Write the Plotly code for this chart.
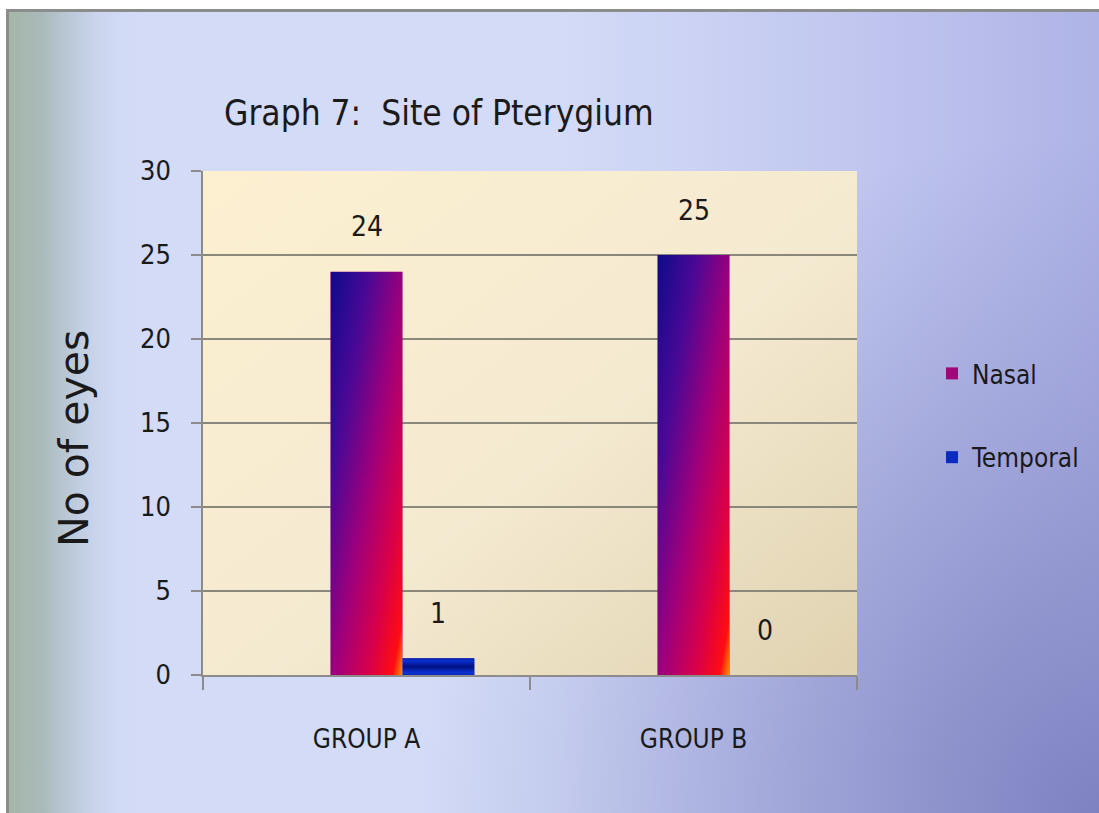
import base64
import plotly.graph_objects as go

# ---- data ----
categories = ["GROUP A", "GROUP B"]
nasal = [24, 25]
temporal = [1, 0]
series_names = ["Nasal", "Temporal"]
y_ticks = [0, 5, 10, 15, 20, 25, 30]
title_text = "Graph 7:\u00a0 Site of Pterygium"
y_title = "No of eyes"

W, H = 1099, 813
L, R, T, B = 203, 242, 171, 138
PW, PH = W - L - R, H - T - B

NARROW = "Liberation Sans Narrow, Arial Narrow, DejaVu Sans Condensed, sans-serif"
BAR_W = 0.22


def svg_uri(svg):
    return "data:image/svg+xml;base64," + base64.b64encode(svg.encode()).decode()


slide_svg = f"""<svg xmlns='http://www.w3.org/2000/svg' width='{W}' height='{H}' viewBox='0 0 {W} {H}'>
<defs>
<linearGradient id='rg' x1='0' y1='0' x2='1' y2='0'>
<stop offset='0.5' stop-color='#b4b8ea' stop-opacity='0'/>
<stop offset='1' stop-color='#aeb2e6' stop-opacity='1'/>
</linearGradient>
<radialGradient id='br' gradientUnits='userSpaceOnUse' cx='{W}' cy='{H}' r='680'>
<stop offset='0' stop-color='#7e82c1' stop-opacity='1'/>
<stop offset='1' stop-color='#8a8ec8' stop-opacity='0'/>
</radialGradient>
<linearGradient id='lg' x1='0' y1='0' x2='1' y2='0'>
<stop offset='0' stop-color='#a4b7a8' stop-opacity='1'/>
<stop offset='0.03' stop-color='#a9baba' stop-opacity='1'/>
<stop offset='0.06' stop-color='#b9c7d6' stop-opacity='0.8'/>
<stop offset='0.1' stop-color='#cdd6f0' stop-opacity='0.3'/>
<stop offset='0.13' stop-color='#d3dbf7' stop-opacity='0'/>
</linearGradient>
</defs>
<rect x='0' y='0' width='{W}' height='{H}' fill='#ffffff'/>
<rect x='6' y='9' width='{W}' height='{H}' fill='#8c8c8c'/>
<rect x='9' y='12' width='{W}' height='{H}' fill='#d3dbf7'/>
<rect x='9' y='12' width='{W}' height='{H}' fill='url(#rg)'/>
<rect x='9' y='12' width='{W}' height='{H}' fill='url(#br)'/>
<rect x='9' y='12' width='{W}' height='{H}' fill='url(#lg)'/>
</svg>"""

plot_svg = """<svg xmlns='http://www.w3.org/2000/svg' width='100' height='100' viewBox='0 0 100 100' preserveAspectRatio='none'>
<defs><linearGradient id='pg' x1='0' y1='0' x2='1' y2='1'>
<stop offset='0' stop-color='#fdf0d1'/>
<stop offset='0.55' stop-color='#f4ead1'/>
<stop offset='1' stop-color='#e0d2b0'/>
</linearGradient></defs>
<rect x='0' y='0' width='100' height='100' fill='url(#pg)'/>
</svg>"""

nasal_svg = """<svg xmlns='http://www.w3.org/2000/svg' width='100' height='100' viewBox='0 0 100 100' preserveAspectRatio='none'>
<defs><linearGradient id='ng' x1='0' y1='0' x2='1' y2='1'>
<stop offset='0' stop-color='#0c0c88'/>
<stop offset='0.27' stop-color='#4a0896'/>
<stop offset='0.52' stop-color='#9c007c'/>
<stop offset='0.76' stop-color='#d8004a'/>
<stop offset='0.93' stop-color='#ff0c12'/>
<stop offset='1' stop-color='#ff9a00'/>
</linearGradient></defs>
<rect x='0' y='0' width='100' height='100' fill='url(#ng)'/>
</svg>"""

temporal_svg = """<svg xmlns='http://www.w3.org/2000/svg' width='100' height='100' viewBox='0 0 100 100' preserveAspectRatio='none'>
<defs><linearGradient id='tg' x1='0' y1='0' x2='0' y2='1'>
<stop offset='0' stop-color='#0a1c9a'/>
<stop offset='0.15' stop-color='#0a30d0'/>
<stop offset='0.5' stop-color='#001080'/>
<stop offset='0.85' stop-color='#0a30d0'/>
<stop offset='1' stop-color='#0a2ac0'/>
</linearGradient></defs>
<rect x='0' y='0' width='100' height='100' fill='url(#tg)'/>
</svg>"""

fig = go.Figure()
offsets = [-BAR_W / 2, BAR_W / 2]
colors = ["#a0087a", "#0a2ac0"]
svgs = [nasal_svg, temporal_svg]
values = [nasal, temporal]

for name, vals, off, col in zip(series_names, values, offsets, colors):
    fig.add_trace(go.Bar(
        x=categories, y=vals, name=name, width=BAR_W, offset=off,
        marker=dict(color=col, line=dict(width=0)), legendgroup=name,
    ))

images = [
    dict(source=svg_uri(slide_svg), xref="paper", yref="paper",
         x=-L / PW, y=1 + T / PH, sizex=W / PW, sizey=H / PH,
         xanchor="left", yanchor="top", sizing="stretch", layer="below"),
    dict(source=svg_uri(plot_svg), xref="paper", yref="paper",
         x=0, y=1, sizex=1, sizey=1,
         xanchor="left", yanchor="top", sizing="stretch", layer="below"),
]
annotations = []
for vals, off, svg in zip(values, offsets, svgs):
    for i, v in enumerate(vals):
        if v > 0:
            images.append(dict(source=svg_uri(svg), xref="x", yref="y",
                               x=i + off, y=v, sizex=BAR_W, sizey=v,
                               xanchor="left", yanchor="top", sizing="stretch",
                               layer="above"))
        annotations.append(dict(x=i + off + BAR_W / 2, y=v, xref="x", yref="y",
                                text=str(v), showarrow=False, yshift=45,
                                yanchor="middle",
                                font=dict(family=NARROW, size=28, color="#1a1a1a")))

annotations.append(dict(x=(74 - L) / PW, y=(H - B - 439) / PH, xref="paper", yref="paper",
                        text=y_title, textangle=-90, showarrow=False,
                        xanchor="center", yanchor="middle",
                        font=dict(family="DejaVu Sans, Verdana, sans-serif", size=41, color="#1a1a1a")))

fig.update_layout(
    width=W, height=H,
    margin=dict(l=L, r=R, t=T, b=B, autoexpand=False),
    paper_bgcolor="#d3dbf7", plot_bgcolor="rgba(0,0,0,0)",
    barmode="group",
    images=images,
    annotations=annotations,
    title=dict(text=title_text, xref="container", yref="container",
               x=224 / W, xanchor="left", y=1 - 113 / H, yanchor="middle",
               font=dict(family=NARROW, size=35, color="#1a1a1a")),
    showlegend=True,
    legend=dict(x=(932 - L) / PW, y=(H - B - 350) / PH, xanchor="left", yanchor="top",
                bgcolor="rgba(0,0,0,0)", tracegroupgap=47,
                font=dict(family=NARROW, size=26, color="#1a1a1a"),
                itemclick=False, itemdoubleclick=False),
    font=dict(family=NARROW, color="#1a1a1a"),
)

fig.update_xaxes(
    type="category", tickson="boundaries", ticks="outside", ticklen=13,
    tickcolor="#8c8c8c", tickwidth=1.5, showline=True, linecolor="#8c8c8c", linewidth=1.5,
    showgrid=False, ticklabelstandoff=40,
    tickfont=dict(family=NARROW, size=26, color="#1a1a1a"),
)
fig.update_yaxes(
    range=[0, 30], tickvals=y_ticks, ticks="outside", ticklen=10,
    tickcolor="#8c8c8c", tickwidth=1.5, showline=True, linecolor="#8c8c8c", linewidth=1.5,
    showgrid=True, gridcolor="#8a877c", gridwidth=1.5, zeroline=False,
    ticklabelstandoff=15,
    tickfont=dict(family=NARROW, size=27, color="#1a1a1a"),
)

fig.write_html("out.html")
